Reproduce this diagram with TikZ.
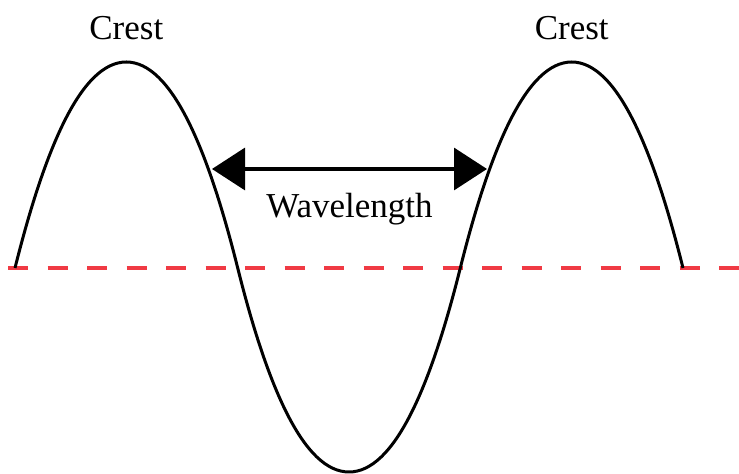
\documentclass[tikz,border=0pt]{standalone}
\usepackage{fontspec}
\setmainfont{Liberation Serif}
\usepackage{tikz}
\usetikzlibrary{arrows.meta,positioning}
\definecolor{axisred}{RGB}{240,58,68}

\begin{document}
\begin{tikzpicture}[
  x=0.5pt, y=-0.5pt,
  wave/.style={line width=1.5pt, black},
  axisline/.style={line width=1.7pt, axisred, dash pattern=on 10pt off 9.75pt},
  span/.style={{Triangle[length=16.5pt,width=21pt]}-{Triangle[length=16.5pt,width=21pt]}, line width=1.6pt},
  lbl/.style={font=\fontsize{17.5}{20}\selectfont}
]
\useasboundingbox (0,0) rectangle (739,474);

% zero crossings and extrema
\coordinate (z0) at (15,268);
\coordinate (c1) at (126.3,62);
\coordinate (z1) at (237.7,268);
\coordinate (t1) at (349,472);
\coordinate (z2) at (460.3,268);
\coordinate (c2) at (571.7,62);
\coordinate (z3) at (683,268);
\coordinate (axL) at (8,268);
\coordinate (axR) at (739,268);

\draw[axisline] (axL) -- (axR);

\draw[wave] (z0) .. controls +(30,-120) and +(-45,0) .. (c1)
  .. controls +(45,0) and +(-30,-120) .. (z1)
  .. controls +(30,120) and +(-45,0) .. (t1)
  .. controls +(45,0) and +(-30,120) .. (z2)
  .. controls +(30,-120) and +(-45,0) .. (c2)
  .. controls +(45,0) and +(-30,-120) .. (z3);

\node[lbl, above=7.5pt of c1] (crest1) {Crest};
\node[lbl, above=7.5pt of c2] (crest2) {Crest};

\coordinate (wlL) at (212,169);
\coordinate (wlR) at (487,169);
\coordinate (wlM) at (349.5,169);
\draw[span] (wlL) -- (wlR);
\node[lbl, below=8.5pt of wlM] (wl) {Wavelength};
\end{tikzpicture}
\end{document}
